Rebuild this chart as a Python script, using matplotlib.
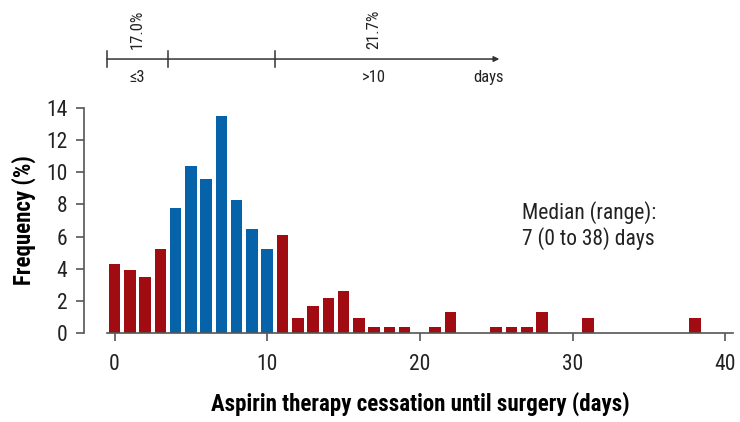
import matplotlib
matplotlib.use("Agg")
import matplotlib.pyplot as plt
import numpy as np

# days before surgery that aspirin was stopped, and share of patients (%)
days = list(range(0, 39))
freq = [4.3, 3.9, 3.5, 5.2, 7.8, 10.4, 9.6, 13.5, 8.3, 6.5,
        5.2, 6.1, 0.9, 1.7, 2.2, 2.6, 0.9, 0.4, 0.4, 0.4,
        0.0, 0.4, 1.3, 0.0, 0.0, 0.4, 0.4, 0.4, 1.3, 0.0,
        0.0, 0.9, 0.0, 0.0, 0.0, 0.0, 0.0, 0.0, 0.9]
group_edges = [-0.5, 3.5, 10.5]
group_labels = ["\u22643", ">10"]
group_pcts = ["17.0%", "21.7%"]
y_ticks = [0, 2, 4, 6, 8, 10, 12, 14]
x_ticks = [0, 10, 20, 30, 40]

red = "#A10C13"
blue = "#0663A9"
grey = "#555555"
txt = "#222222"

plt.rcParams['font.family'] = ['Roboto Condensed', 'DejaVu Sans']

fig = plt.figure(figsize=(7.4, 4.22), dpi=100)
ax = fig.add_axes([0.1135, 0.211, 0.877, 0.533])

colors = [blue if 4 <= d <= 10 else red for d in days]
ax.bar(days, freq, width=0.76, color=colors, edgecolor="none")

ax.set_xlim(-2, 40.5)
ax.set_ylim(0, 14)
ax.set_xticks(x_ticks)
ax.set_yticks(y_ticks)
for s in ["top", "right"]:
    ax.spines[s].set_visible(False)
ax.spines["bottom"].set_bounds(-0.5, 40.5)
ax.spines["left"].set_bounds(0, 14)
for s in ["bottom", "left"]:
    ax.spines[s].set_color(grey)
    ax.spines[s].set_linewidth(1.2)
ax.tick_params(colors=grey, labelcolor=txt, labelsize=15.5, length=6, width=1.2)
ax.tick_params(axis="x", pad=9)
ax.tick_params(axis="y", pad=6)

ax.set_ylabel("Frequency (%)", fontsize=16.5, fontweight="bold", labelpad=7)
ax.set_xlabel("Aspirin therapy cessation until surgery (days)", fontsize=16.5,
              fontweight="bold", labelpad=12)
# centre the x label under the drawn axis line rather than the whole axes
ax.xaxis.set_label_coords((20 + 2) / 42.5, -0.26)

ax.text(26.7, 6.7, "Median (range):\n7 (0 to 38) days", fontsize=15.5,
        va="center", ha="left", linespacing=1.15, color=txt)

# timeline above the plot
ty = 17.05
ax.annotate("", xy=(25.2, ty), xytext=(-0.5, ty), xycoords="data",
            arrowprops=dict(arrowstyle="-|>", color="#333333", lw=1.1,
                            mutation_scale=8, shrinkA=0, shrinkB=0),
            annotation_clip=False)
for e in group_edges:
    ax.plot([e, e], [ty - 0.5, ty + 0.5], color="#333333", lw=1.1, clip_on=False)
ax.text(1.5, ty + 0.6, group_pcts[0], rotation=90, ha="center", va="bottom", fontsize=12, color=txt)
ax.text(17.0, ty + 0.6, group_pcts[1], rotation=90, ha="center", va="bottom", fontsize=12, color=txt)
ax.text(1.5, ty - 0.7, group_labels[0], ha="center", va="top", fontsize=12, color=txt)
ax.text(17.0, ty - 0.7, group_labels[1], ha="center", va="top", fontsize=12, color=txt)
ax.text(24.5, ty - 0.7, "days", ha="center", va="top", fontsize=12, color=txt)

fig.savefig("out.png", dpi=100)
